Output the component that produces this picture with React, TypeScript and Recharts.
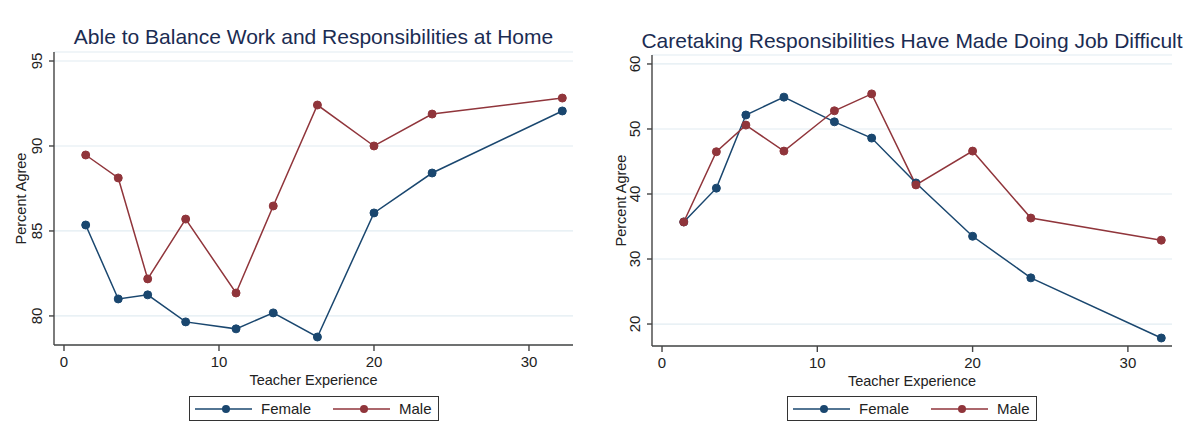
import React from 'react';
import { LineChart, Line, XAxis, YAxis, CartesianGrid } from 'recharts';

// teacher experience bins (x positions shared by both panels)
const experience = [1.4, 3.5, 5.4, 7.85, 11.1, 13.5, 16.35, 20.0, 23.75, 32.15];

const balanceFemale = [85.35, 81.0, 81.24, 79.65, 79.24, 80.18, 78.76, 86.06, 88.41, 92.06];
const balanceMale = [89.47, 88.12, 82.18, 85.7, 81.35, 86.47, 92.41, 90.0, 91.88, 92.82];

const caretakingFemale = [35.7, 40.9, 52.15, 54.9, 51.1, 48.6, 41.7, 33.5, 27.1, 17.85];
const caretakingMale = [35.7, 46.5, 50.6, 46.6, 52.8, 55.4, 41.4, 46.6, 36.3, 32.9];

const xTicks = [0, 10, 20, 30];
const balanceTicks = [80, 85, 90, 95];
const caretakingTicks = [20, 30, 40, 50, 60];

const FEMALE = '#1a476f';
const MALE = '#90353b';
const AXIS = '#444';
const FONT = '"Liberation Sans", Arial, Helvetica, sans-serif';

const toRows = (female: number[], male: number[]) =>
  experience.map((x, i) => ({ x, female: female[i], male: male[i] }));

const RotTick = (props: any) => {
  const { x, y, payload } = props;
  return (
    <text x={x} y={y} transform={`rotate(-90 ${x} ${y})`} textAnchor="middle" fontSize={15} fill="#222">
      {payload.value}
    </text>
  );
};

interface PanelProps {
  rows: { x: number; female: number; male: number }[];
  yDomain: [number, number];
  yTicks: number[];
  margin: { top: number; right: number; bottom: number; left: number };
  yWidth: number;
}

const Panel = ({ rows, yDomain, yTicks, margin, yWidth }: PanelProps) => (
  <LineChart width={600} height={433} data={rows} margin={margin}>
    <CartesianGrid vertical={false} stroke="#e2ecf2" strokeWidth={1.2} />
    <XAxis
      type="number"
      dataKey="x"
      domain={[-0.645, 32.84]}
      ticks={xTicks}
      allowDataOverflow
      height={45}
      tickSize={6}
      tickMargin={5}
      stroke={AXIS}
      strokeWidth={1.4}
      tick={{ fill: '#222', fontSize: 15 }}
      label={{ value: 'Teacher Experience', position: 'insideBottom', offset: 5, fill: '#222', fontSize: 14.5 }}
    />
    <YAxis
      type="number"
      domain={yDomain}
      ticks={yTicks}
      allowDataOverflow
      width={yWidth}
      tickSize={5}
      tickMargin={7}
      stroke={AXIS}
      strokeWidth={1.4}
      tick={<RotTick />}
      label={{
        value: 'Percent Agree',
        angle: -90,
        position: 'insideLeft',
        offset: 21,
        fill: '#222',
        fontSize: 14.5,
        style: { textAnchor: 'middle' },
      }}
    />
    <Line
      type="linear"
      dataKey="female"
      stroke={FEMALE}
      strokeWidth={1.5}
      dot={{ r: 4, fill: FEMALE, stroke: FEMALE, strokeWidth: 1 }}
      isAnimationActive={false}
    />
    <Line
      type="linear"
      dataKey="male"
      stroke={MALE}
      strokeWidth={1.5}
      dot={{ r: 4, fill: MALE, stroke: MALE, strokeWidth: 1 }}
      isAnimationActive={false}
    />
  </LineChart>
);

const LegendBox = ({ left }: { left: number }) => {
  const entry = (color: string, label: string) => (
    <div style={{ display: 'flex', alignItems: 'center' }}>
      <svg width={60} height={12} style={{ marginRight: 6 }}>
        <line x1={0} y1={6} x2={57} y2={6} stroke={color} strokeWidth={1.5} />
        <circle cx={31} cy={6} r={4} fill={color} />
      </svg>
      <span>{label}</span>
    </div>
  );
  return (
    <div
      style={{
        position: 'absolute',
        left,
        top: 396,
        width: 250,
        height: 25,
        boxSizing: 'border-box',
        border: '1px solid #333',
        display: 'flex',
        alignItems: 'center',
        paddingLeft: 5,
        gap: 22,
        fontSize: 15,
        color: '#222',
      }}
    >
      {entry(FEMALE, 'Female')}
      {entry(MALE, 'Male')}
    </div>
  );
};

export default function App() {
  return (
    <div
      style={{
        position: 'absolute',
        left: 0,
        top: 0,
        width: 1200,
        height: 433,
        background: '#fff',
        fontFamily: FONT,
        overflow: 'hidden',
      }}
    >
      <div style={{ position: 'absolute', left: 0, top: 0 }}>
        <Panel
          rows={toRows(balanceFemale, balanceMale)}
          yDomain={[78.29, 95.53]}
          yTicks={balanceTicks}
          margin={{ top: 52, right: 27, bottom: 43, left: 0 }}
          yWidth={54}
        />
      </div>
      <div style={{ position: 'absolute', left: 600, top: 0 }}>
        <Panel
          rows={toRows(caretakingFemale, caretakingMale)}
          yDomain={[16.62, 61.38]}
          yTicks={caretakingTicks}
          margin={{ top: 55, right: 28, bottom: 42, left: 0 }}
          yWidth={52}
        />
      </div>
      <svg width={1200} height={433} style={{ position: 'absolute', left: 0, top: 0, pointerEvents: 'none' }}>
        <text x={313.5} y={44} textAnchor="middle" fontSize={21} fill="#1b2c52">
          Able to Balance Work and Responsibilities at Home
        </text>
        <text x={912} y={48} textAnchor="middle" fontSize={21} fill="#1b2c52">
          Caretaking Responsibilities Have Made Doing Job Difficult
        </text>
      </svg>
      <LegendBox left={189} />
      <LegendBox left={787} />
    </div>
  );
}
